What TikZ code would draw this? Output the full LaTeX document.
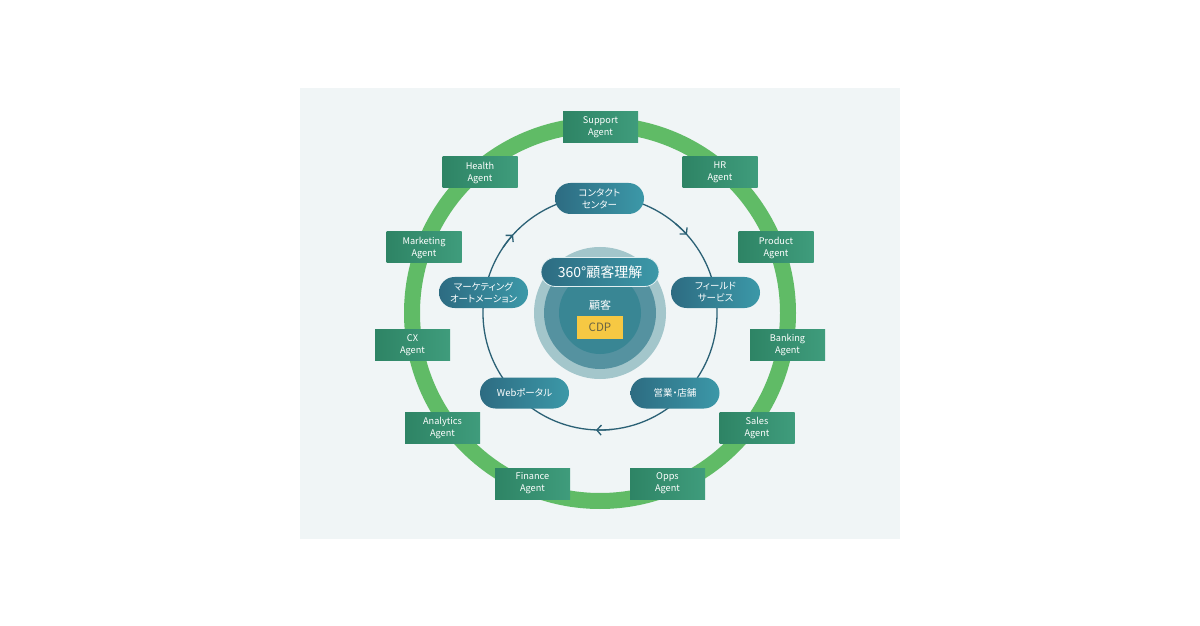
\documentclass[tikz,border=0pt]{standalone}
\usepackage{fontspec}
\setmainfont{Noto Sans CJK JP}[RawFeature=+palt]
\usetikzlibrary{arrows.meta}
\definecolor{panelbg}{HTML}{F0F5F6}
\definecolor{ringgreen}{HTML}{60BB66}
\definecolor{cycleline}{HTML}{2B6175}
\definecolor{agentL}{HTML}{2E8465}
\definecolor{agentR}{HTML}{3F9C7C}
\definecolor{pillL}{HTML}{2D6C82}
\definecolor{pillR}{HTML}{3C98A8}
\definecolor{discA}{HTML}{A3C6CB}
\definecolor{discB}{HTML}{5592A0}
\definecolor{discC}{HTML}{398694}
\definecolor{cdpyellow}{HTML}{F6C843}
\definecolor{cdptext}{HTML}{6A6444}
\begin{document}
\begin{tikzpicture}[x=1pt,y=1pt,
  agentbox/.style={rectangle, minimum width=75pt, minimum height=31pt, inner sep=0pt,
    left color=agentL, right color=agentR, text=white, align=center,
    font=\fontsize{9.2}{12}\selectfont},
  pillbox/.style={rectangle, rounded corners=15.5pt, minimum width=89pt, minimum height=31pt,
    inner sep=0pt, left color=pillL, right color=pillR, text=white, align=center,
    font=\fontsize{9.5}{12}\selectfont},
  cyclearrow/.style={draw=cycleline, line width=1.3pt,
    -{Straight Barb[length=4.5pt,width=10pt,line width=1.3pt]}}
]
\useasboundingbox (0,0) rectangle (1200,625);
\fill[white] (0,0) rectangle (1200,625);
\fill[panelbg] (300,86) rectangle (900,537);

\coordinate (c) at (600,312);
% outer green ring
\draw[ringgreen, line width=16pt] (c) circle[radius=188];
% inner cycle
\draw[cycleline, line width=1.3pt] (c) circle[radius=117];
\draw[cyclearrow] ([shift={(146:117)}]c) arc[start angle=146, end angle=138, radius=117];
\draw[cyclearrow] ([shift={(50:117)}]c) arc[start angle=50, end angle=42, radius=117];
\draw[cyclearrow] ([shift={(276:117)}]c) arc[start angle=276, end angle=268, radius=117];

% central discs
\fill[discA] (c) circle[radius=66];
\fill[discB] (c) circle[radius=56];
\fill[discC] (c) circle[radius=41];

\node[pillbox, minimum width=118pt, minimum height=29pt, rounded corners=14.5pt,
  draw=white!85!pillR, line width=0.8pt, font=\fontsize{14}{16}\selectfont] (u360) at (600,353) {360°顧客理解};
\node[text=white, font=\fontsize{11}{13}\selectfont] (cust) at (600,320) {顧客};
\node[rectangle, fill=cdpyellow, minimum width=46pt, minimum height=23pt, inner sep=0pt,
  text=cdptext, font=\fontsize{11.5}{13}\selectfont] (cdp) at (600,297.5) {CDP};

% channel pills
\node[pillbox] (contact) at (599.5,426.5) {コンタクト\\センター};
\node[pillbox] (field) at (715.5,332.5) {フィールド\\サービス};
\node[pillbox] (mkauto) at (483.5,332.5) {マーケティング\\オートメーション};
\node[pillbox] (web) at (524.5,232) {Webポータル};
\node[pillbox] (store) at (675,232) {営業・店舗};

% agents
\node[agentbox] (support) at (600.5,497.5) {Support\\Agent};
\node[agentbox] (health) at (480,452.5) {Health\\Agent};
\node[agentbox] (hr) at (720,452.5) {HR\\Agent};
\node[agentbox] (marketing) at (424,377.5) {Marketing\\Agent};
\node[agentbox] (product) at (776,377.5) {Product\\Agent};
\node[agentbox] (cx) at (412.5,280) {CX\\Agent};
\node[agentbox] (banking) at (787.5,280) {Banking\\Agent};
\node[agentbox] (analytics) at (442.5,197.5) {Analytics\\Agent};
\node[agentbox] (sales) at (757,197.5) {Sales\\Agent};
\node[agentbox] (finance) at (532.5,141.5) {Finance\\Agent};
\node[agentbox] (opps) at (667.5,141.5) {Opps\\Agent};
\end{tikzpicture}
\end{document}
